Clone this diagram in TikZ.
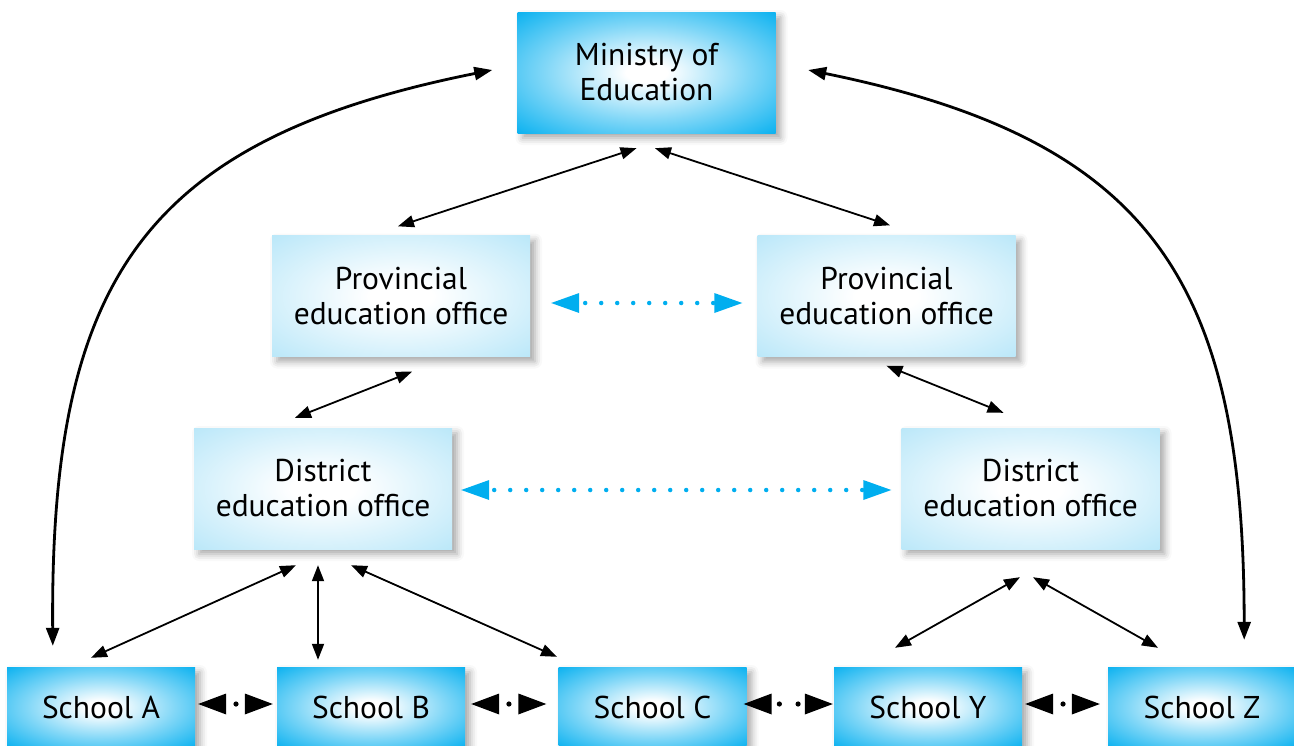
\documentclass[tikz,border=0pt]{standalone}
\usepackage{fontspec}
\setmainfont{PT Sans}
\usetikzlibrary{arrows.meta,calc,shadows.blur}
\definecolor{cyanA}{RGB}{0,174,239}
\definecolor{lightB}{RGB}{176,228,248}
\pgfdeclareradialshading{darkrad}{\pgfpoint{0bp}{0bp}}{color(0bp)=(white); color(4bp)=(white); color(20bp)=(cyanA!50!white); color(37bp)=(cyanA); color(50bp)=(cyanA)}
\pgfdeclareradialshading{lightrad}{\pgfpoint{0bp}{0bp}}{color(0bp)=(white); color(6bp)=(white); color(40bp)=(lightB); color(50bp)=(lightB)}
\begin{document}
\begin{tikzpicture}[x=1pt,y=-1pt,
  font=\fontsize{31.5}{35}\selectfont,
  basebox/.style={rectangle, align=center, inner sep=0pt, text=black,
    blur shadow={shadow xshift=5pt, shadow yshift=-5pt, shadow blur radius=7pt, shadow opacity=35}},
  darkbox/.style={basebox, shade, shading=darkrad},
  topbox/.style={darkbox, minimum width=258pt, minimum height=121pt},
  schoolbox/.style={darkbox, minimum width=188pt, minimum height=80pt},
  midbox/.style={basebox, shade, shading=lightrad,
    minimum width=258pt, minimum height=121pt},
  conn/.style={{Triangle[length=16pt,width=12pt]}-{Triangle[length=16pt,width=12pt]}, line width=1.8pt},
  curvy/.style={{Triangle[length=18pt,width=13pt]}-{Triangle[length=18pt,width=13pt]}, line width=2.8pt},
  sarrow/.style={{Triangle[length=28pt,width=21pt,line width=0pt]}-{Triangle[length=28pt,width=21pt,line width=0pt]},
    line width=0.1pt, dash pattern=on 0pt off 2000pt},
  bluearrow/.style={draw=cyanA, line width=4.5pt, line cap=round, dash pattern=on 0pt off 16pt,
    {Triangle[length=28pt,width=20pt,line width=0pt,fill=cyanA]}-{Triangle[length=28pt,width=20pt,line width=0pt,fill=cyanA]}},
  sdot/.style={fill=black}
]
\useasboundingbox (0,0) rectangle (1294,745);

% nodes
\node[topbox] (min) at (646.5,72.5) {Ministry of\\Education};
\node[midbox] (pl) at (401,296) {Provincial\\education office};
\node[midbox] (pr) at (886.5,296) {Provincial\\education office};
\node[midbox] (dl) at (323,488.5) {District\\education office};
\node[midbox] (dr) at (1030.5,488.5) {District\\education office};
\node[schoolbox] (sa) at (101,707) {School A};
\node[schoolbox] (sb) at (371,707) {School B};
\node[schoolbox] (sc) at (652.5,707) {School C};
\node[schoolbox] (sy) at (928,707) {School Y};
\node[schoolbox] (sz) at (1202,707) {School Z};

% straight connectors
\draw[conn] ($(min.south)+(-10,15)$) -- ($(pl.north)+(-3,-9)$);
\draw[conn] ($(min.south)+(8.5,15)$) -- ($(pr.north)+(3.5,-10)$);
\draw[conn] ($(pl.south)+(11,15)$) -- ($(dl.north)+(-28,-10)$);
\draw[conn] ($(pr.south)+(0,9)$) -- ($(dr.north)+(-27,-15)$);
\draw[conn] ($(dl.south)+(-27,16)$) -- ($(sa.north)+(-10,-9)$);
\draw[conn] ($(dl.south)+(-5,16)$) -- ($(sb.north)+(-53,-7)$);
\draw[conn] ($(dl.south)+(28,16)$) -- ($(sc.north)+(-95.5,-10)$);
\draw[conn] ($(dr.south)+(-10.5,28)$) -- ($(sy.north)+(-33,-19)$);
\draw[conn] ($(dr.south)+(2.5,28)$) -- ($(sz.north)+(-44,-19)$);

% curved connectors
\draw[curvy] ($(min.west)+(-25,-2.5)$) .. controls (143,140) and (50,280) .. ($(sa.north west)+(46,-21)$);
\draw[curvy] ($(min.east)+(32.5,-2.5)$) .. controls (1151,140) and (1244,280) .. ($(sz.north east)+(-52,-27)$);

% blue dotted connectors
\draw[bluearrow, dash phase=10pt, shorten <=21pt, shorten >=15pt] ($(pl.east)+(0,7)$) -- ($(pr.west)+(0,7)$);
\draw[bluearrow, dash phase=11pt, shorten <=9pt, shorten >=10pt] ($(dl.east)+(0,1.5)$) -- ($(dr.west)+(0,1.5)$);

% school connectors
\draw[sarrow, shorten <=3pt, shorten >=4pt] ($(sa.east)+(0,-3)$) -- ($(sb.west)+(0,-3)$);
\fill[sdot] ($(sa.east)!0.5!(sb.west)+(0,-3)$) circle (2.6);
\draw[sarrow, shorten <=6pt, shorten >=12pt] ($(sb.east)+(0,-3)$) -- ($(sc.west)+(0,-3)$);
\fill[sdot] ($(sb.east)!0.47!(sc.west)+(0,-3)$) circle (2.6);
\draw[sarrow, shorten <=-3pt, shorten >=1pt] ($(sc.east)+(0,-3)$) -- ($(sy.west)+(0,-3)$);
\fill[sdot] ($(sc.east)!0.375!(sy.west)+(0,-3)$) circle (2.6);
\fill[sdot] ($(sc.east)!0.59!(sy.west)+(0,-3)$) circle (2.6);
\draw[sarrow, shorten <=3pt, shorten >=8pt] ($(sy.east)+(0,-3)$) -- ($(sz.west)+(0,-3)$);
\fill[sdot] ($(sy.east)!0.477!(sz.west)+(0,-3)$) circle (2.6);
\end{tikzpicture}
\end{document}
